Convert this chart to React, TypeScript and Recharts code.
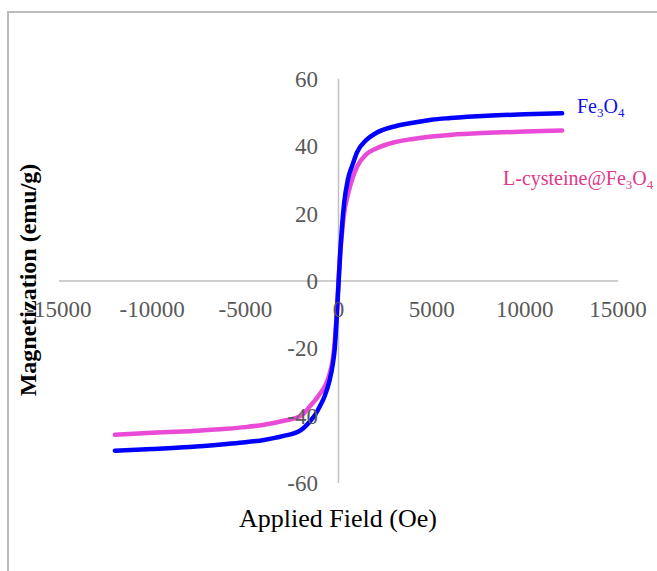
import React from 'react';
import { LineChart, Line, XAxis, YAxis, ReferenceLine } from 'recharts';

// applied field (Oe)
const fields = [
  -12000, -10000, -8000, -6000, -5000, -4000, -3000, -2000, -1500, -1250, -1000, -750, -500, -300, -200, -100, 0,
  100, 200, 300, 500, 750, 1000, 1500, 2000, 3000, 4000, 5000, 6000, 8000, 10000, 12000,
];
// magnetization (emu/g)
const fe3o4 = [
  -50.4, -49.9, -49.3, -48.4, -47.9, -47.2, -46.1, -44.2, -41.5, -39.7, -37.2, -34.3, -30, -24.5, -20, -11, -1,
  9, 17, 23, 30, 34.5, 38.3, 41.9, 43.9, 45.9, 47, 47.9, 48.4, 49.1, 49.5, 49.8,
];
const cysFe3o4 = [
  -45.7, -45.1, -44.6, -43.9, -43.4, -42.7, -41.6, -40, -37, -35.4, -33.5, -31.5, -28, -23, -18, -10, 0,
  9, 15, 20, 25.5, 30.5, 34, 37.7, 39.3, 41.2, 42.2, 42.9, 43.4, 44, 44.4, 44.7,
];
const xTicks = [-15000, -10000, -5000, 0, 5000, 10000, 15000];
const yTicks = [-60, -40, -20, 0, 20, 40, 60];

const data = fields.map((f, i) => ({ field: f, fe3o4: fe3o4[i], cys: cysFe3o4[i] }));

const XTick = ({ x, y, payload }: any) => (
  <text x={x} y={y - 166} textAnchor="middle" fontFamily="Liberation Serif" fontSize={23} fill="#595959">
    {payload.value}
  </text>
);

const YTick = ({ x, y, payload }: any) => (
  <text x={x + 259} y={y + 8} textAnchor="end" fontFamily="Liberation Serif" fontSize={23} fill="#595959">
    {payload.value}
  </text>
);

const Formula = ({ prefix }: { prefix: string }) => (
  <>
    {prefix}Fe
    <tspan fontSize={13} dy={4}>3</tspan>
    <tspan dy={-4}>O</tspan>
    <tspan fontSize={13} dy={4}>4</tspan>
  </>
);

export default function App() {
  return (
    <div style={{ position: 'absolute', left: 0, top: 0, width: 657, height: 571, overflow: 'hidden', background: '#fff' }}>
      <div style={{ position: 'absolute', left: 7, top: 11, width: 720, height: 640, border: '2px solid #bcbcbc' }} />
      <div style={{ position: 'absolute', left: 0, top: 0 }}>
        <LineChart width={657} height={571} data={data} margin={{ top: 79, right: 39, bottom: 58, left: 0 }}>
          <XAxis
            type="number"
            dataKey="field"
            domain={[-15000, 15000]}
            ticks={xTicks}
            axisLine={false}
            tickLine={false}
            tickSize={0}
            tickMargin={0}
            height={30}
            tick={<XTick />}
            interval={0}
          />
          <YAxis
            type="number"
            domain={[-60, 60]}
            ticks={yTicks}
            axisLine={false}
            tickLine={false}
            tickSize={0}
            tickMargin={0}
            width={59}
            tick={<YTick />}
            interval={0}
          />
          <ReferenceLine y={0} stroke="#bfbfbf" strokeWidth={1.5} />
          <ReferenceLine x={0} stroke="#bfbfbf" strokeWidth={1.5} />
          <Line type="monotone" dataKey="cys" stroke="#ea4bd6" strokeWidth={4.5} dot={false} strokeLinecap="round" isAnimationActive={false} />
          <Line type="monotone" dataKey="fe3o4" stroke="#0000ff" strokeWidth={4.5} dot={false} strokeLinecap="round" isAnimationActive={false} />
        </LineChart>
      </div>
      <svg width={657} height={571} style={{ position: 'absolute', left: 0, top: 0, pointerEvents: 'none' }}>
        <text x={577} y={113} fontFamily="Liberation Serif" fontSize={20} fill="#1010ee">
          <Formula prefix="" />
        </text>
        <text x={503} y={185} fontFamily="Liberation Serif" fontSize={20} fill="#e0388a">
          <Formula prefix="L-cysteine@" />
        </text>
        <text x={338} y={527} textAnchor="middle" fontFamily="Liberation Serif" fontSize={26} fill="#000">
          Applied Field (Oe)
        </text>
        <text
          x={0}
          y={0}
          transform="translate(36 280) rotate(-90)"
          textAnchor="middle"
          fontFamily="Liberation Serif"
          fontWeight="bold"
          fontSize={24}
          fill="#000"
        >
          Magnetization (emu/g)
        </text>
      </svg>
    </div>
  );
}
